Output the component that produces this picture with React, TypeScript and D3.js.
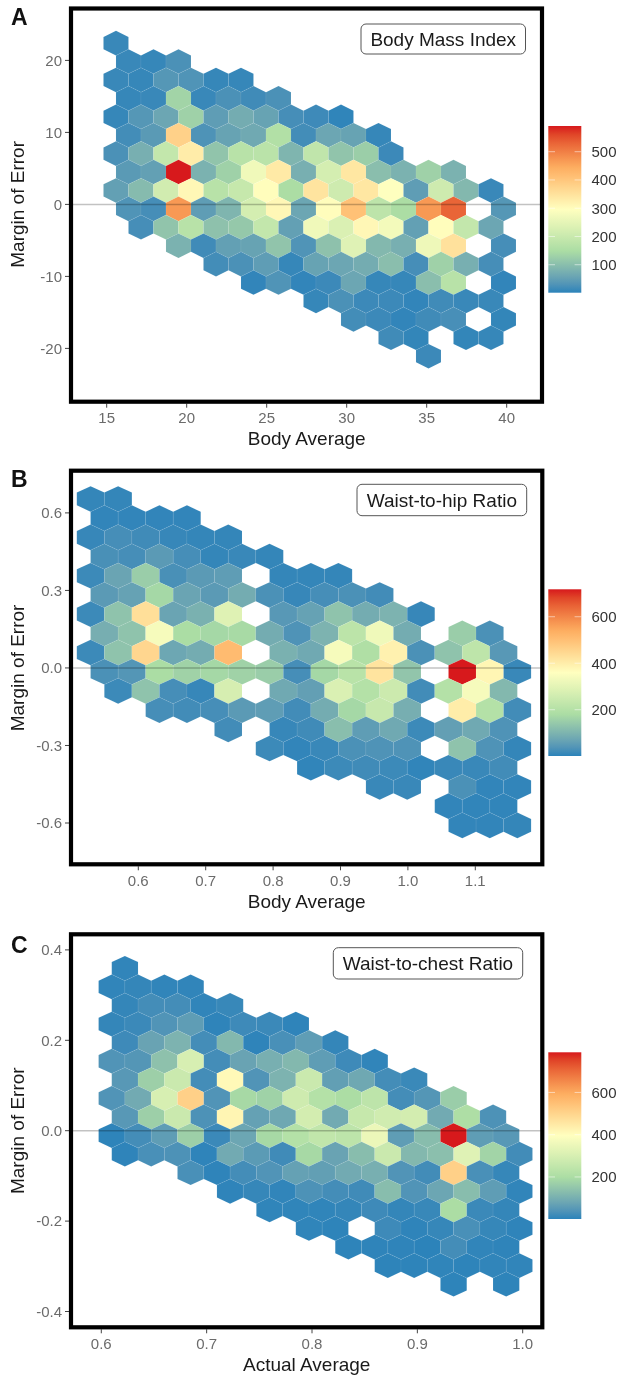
import React from "react";
import * as d3 from "d3";

type Row = [number, (number | null)[]];
const _ = null;

// Hexagon counts: each row is [first column, counts...]; null marks an empty cell.
const bmiRows: Row[] = [
  [0, [10]],
  [0, [10, 8, 25]],
  [0, [10, 8, 35, 30, 8, 8]],
  [0, [8, 10, 135, 10, 25, 15, 25]],
  [0, [8, 35, 60, 130, 45, 70, 55, 20, 14, 4]],
  [0, [18, 40, 380, 28, 55, 65, 160, 18, 60, 55, 8]],
  [0, [25, 75, 190, 330, 110, 170, 175, 85, 185, 110, 125, 12]],
  [0, [40, 50, 591, 80, 130, 270, 335, 75, 220, 340, 100, 80, 130, 80]],
  [0, [50, 95, 215, 310, 170, 195, 300, 150, 345, 210, 340, 295, 45, 210, 90, 10]],
  [0, [30, 20, 470, 45, 85, 220, 310, 60, 300, 410, 180, 150, 470, 530, _, 35]],
  [1, [20, 110, 170, 105, 115, 190, 50, 270, 230, 310, 275, 50, 300, 190, 60]],
  [2, [80, 15, 50, 55, 110, 30, 105, 240, 90, 75, 265, 350, _, 20]],
  [4, [18, 25, 45, 8, 55, 60, 70, 100, 20, 130, 75, 20]],
  [5, [5, 30, 5, 12, 60, 8, 8, 100, 170, _, 5]],
  [8, [8, 25, 12, 12, 5, 15, 10, 10]],
  [9, [18, 12, 5, 15, 22, _, 6]],
  [11, [15, 6, _, 6, 8]],
  [12, [12]],
];
const whrRows: Row[] = [
  [0, [8, 8]],
  [0, [6, 6, 6, 6]],
  [0, [10, 25, 18, 10, 8, 8]],
  [0, [28, 25, 50, 25, 8, 12, 8]],
  [0, [15, 70, 150, 28, 50, 55, _, 8, 8, 8]],
  [0, [50, 65, 170, 70, 50, 85, 30, 10, 25, 30, 20]],
  [0, [15, 130, 430, 70, 95, 290, _, 45, 65, 130, 85, 100, 10]],
  [0, [90, 130, 340, 180, 170, 175, 85, 35, 100, 215, 325, 85, _, 150, 30]],
  [0, [15, 130, 450, 75, 85, 510, _, 95, 80, 340, 190, 390, 30, 130, 220, 45]],
  [0, [30, 40, 180, 160, 170, 160, 150, 25, 170, 210, 420, 135, _, 718, 380, 12]],
  [1, [15, 130, 25, 10, 270, _, 80, 60, 280, 200, 250, 20, 200, 340, 110]],
  [2, [25, 20, 25, 50, 55, 20, 85, 170, 240, 90, _, 400, 200, 20]],
  [5, [20, _, 10, 18, 120, 55, 80, 15, 60, 80, 35]],
  [6, [15, 6, 12, 30, 35, 35, _, 130, 35, 8]],
  [8, [5, 15, 18, 15, 5, 12, 12, 20]],
  [10, [12, 12, _, 30, 6, 6]],
  [13, [6, 5, 5]],
  [13, [6, 6, 8]],
];
const wcrRows: Row[] = [
  [0, [6]],
  [0, [6, 8, 6, 6]],
  [0, [8, 25, 25, 6, 12]],
  [0, [8, 15, 40, 60, 4, 18, 15, 4]],
  [0, [18, 75, 110, 25, 120, 4, 30, 60, 8]],
  [0, [40, 45, 140, 300, 25, 75, 100, 120, 60, 18, 6]],
  [0, [50, 170, 270, 25, 410, 40, 110, 270, 65, 85, 25, 14]],
  [0, [40, 90, 300, 510, 40, 190, 175, 280, 220, 200, 240, 25, 45, 165]],
  [0, [50, 170, 270, 35, 420, 70, 85, 290, 90, 260, 285, 290, 90, 205, 35]],
  [0, [3, 25, 60, 170, 15, 80, 190, 220, 250, 240, 350, 60, 130, 790, 60, 50]],
  [0, [4, 30, 35, 4, 90, 55, 20, 190, 75, 130, 270, 120, 135, 320, 180, 22]],
  [3, [30, 4, 25, 40, 70, 65, 90, 100, 40, 22, 510, 30, 10]],
  [4, [4, 10, 6, 35, 25, 20, 130, 40, 80, 130, 60, 6]],
  [6, [5, 5, 5, 8, 18, 8, 12, 200, 15, 8]],
  [7, [5, 3, _, 18, 4, 10, 30, 10, 4]],
  [9, [3, 4, 4, 2, 25, 6, 4]],
  [10, [3, 3, 5, 3, 6, 6]],
  [13, [3, _, 3]],
];

const bmiXTicks = [15, 20, 25, 30, 35, 40];
const bmiYTicks = [20, 10, 0, -10, -20];
const whrXTicks = [0.6, 0.7, 0.8, 0.9, 1.0, 1.1];
const whrYTicks = [0.6, 0.3, 0, -0.3, -0.6];
const wcrXTicks = [0.6, 0.7, 0.8, 0.9, 1.0];
const wcrYTicks = [0.4, 0.2, 0, -0.2, -0.4];
const bmiLegendTicks = [100, 200, 300, 400, 500];
const whrLegendTicks = [200, 400, 600];
const wcrLegendTicks = [200, 400, 600];
const spectral = ["#2B83BA", "#ABDDA4", "#FFFFBF", "#FDAE61", "#D7191C"];

const SANS = "'Liberation Sans', Arial, sans-serif";

interface PanelSpec {
  id: string; letter: string; letterY: number; title: string; xTitle: string;
  rows: Row[]; xTicks: number[]; yTicks: number[]; legendTicks: number[];
  xFmt: (v: number) => string; yFmt: (v: number) => string;
  xDom: [number, number]; xRange: [number, number];
  yDom: [number, number]; yRange: [number, number];
  box: { l: number; t: number; r: number; b: number };
  hex: { x0: number; y0: number; dx: number; dy: number; odd: number };
  count: [number, number];
  legend: { top: number; bottom: number };
  label: { l: number; t: number; r: number; b: number };
}

const f1 = (v: number) => d3.format(".1f")(v).replace("\u2212", "-");
const f0 = (v: number) => String(v);

const panels: PanelSpec[] = [
  {
    id: "a", letter: "A", letterY: 25, title: "Body Mass Index", xTitle: "Body Average",
    rows: bmiRows, xTicks: bmiXTicks, yTicks: bmiYTicks, legendTicks: bmiLegendTicks, xFmt: f0, yFmt: f0,
    xDom: [15, 40], xRange: [106.7, 506.7], yDom: [20, -20], yRange: [60.4, 348.4],
    box: { l: 71, t: 8.5, r: 542, b: 401.7 },
    hex: { x0: 15.58, y0: 22.4, dx: 1.5625, dy: 2.558, odd: 0.5 },
    count: [1, 591], legend: { top: 126, bottom: 292.7 },
    label: { l: 361, t: 24, r: 525.5, b: 54 },
  },
  {
    id: "b", letter: "B", letterY: 487, title: "Waist-to-hip Ratio", xTitle: "Body Average",
    rows: whrRows, xTicks: whrXTicks, yTicks: whrYTicks, legendTicks: whrLegendTicks, xFmt: f1, yFmt: f1,
    xDom: [0.6, 1.1], xRange: [138.3, 475.3], yDom: [0.6, -0.6], yRange: [512.9, 823],
    box: { l: 71, t: 470.7, r: 542.3, b: 864.3 },
    hex: { x0: 0.5292, y0: 0.654, dx: 0.04085, dy: 0.0743, odd: 0.5 },
    count: [1, 718], legend: { top: 589.3, bottom: 756 },
    label: { l: 357, t: 484.3, r: 526.7, b: 515.7 },
  },
  {
    id: "c", letter: "C", letterY: 953, title: "Waist-to-chest Ratio", xTitle: "Actual Average",
    rows: wcrRows, xTicks: wcrXTicks, yTicks: wcrYTicks, legendTicks: wcrLegendTicks, xFmt: f1, yFmt: f1,
    xDom: [0.6, 1.0], xRange: [101.3, 522.7], yDom: [0.4, -0.4], yRange: [949.9, 1311.5],
    box: { l: 71, t: 934.3, r: 542.3, b: 1327.3 },
    hex: { x0: 0.6224, y0: 0.3593, dx: 0.02496, dy: 0.04111, odd: -0.5 },
    count: [1, 790], legend: { top: 1052.3, bottom: 1219 },
    label: { l: 333.3, t: 947.7, r: 522.7, b: 979 },
  },
];

function Panel({ p }: { p: PanelSpec }) {
  const x = d3.scaleLinear().domain(p.xDom).range(p.xRange);
  const y = d3.scaleLinear().domain(p.yDom).range(p.yRange);
  const [lo, hi] = p.count;
  const color = d3.scaleLinear<string>()
    .domain(d3.range(5).map((i) => lo + ((hi - lo) * i) / 4))
    .range(spectral)
    .interpolate(d3.interpolateLab);
  const legendY = d3.scaleLinear().domain([lo, hi]).range([p.legend.bottom, p.legend.top]);

  const halfW = Math.abs(x(p.hex.x0 + p.hex.dx) - x(p.hex.x0)) / 2;
  const rowPx = Math.abs(y(p.hex.y0 + p.hex.dy) - y(p.hex.y0));
  const rad = (rowPx * 2) / 3;
  const hexPath = d3.line()([
    [0, -rad], [halfW, -rad / 2], [halfW, rad / 2], [0, rad], [-halfW, rad / 2], [-halfW, -rad / 2],
  ] as [number, number][]) + "Z";

  const cells: { cx: number; cy: number; n: number }[] = [];
  p.rows.forEach(([start, values], r) => {
    values.forEach((n, i) => {
      if (n === null) return;
      const k = start + i + (r % 2 === 1 ? p.hex.odd : 0);
      cells.push({ cx: x(p.hex.x0 + k * p.hex.dx), cy: y(p.hex.y0 - r * p.hex.dy), n });
    });
  });

  const { l, t, r, b } = p.box;
  const midY = y(0);
  const gradId = `grad-${p.id}`;
  const legendStops = d3.range(0, 1.0001, 0.05);
  return (
    <g fontFamily={SANS}>
      <defs>
        <linearGradient id={gradId} x1="0" y1="1" x2="0" y2="0">
          {legendStops.map((s) => (
            <stop key={s} offset={s} stopColor={color(lo + (hi - lo) * s)} />
          ))}
        </linearGradient>
      </defs>
      <text x={11} y={p.letterY} fontSize={23} fontWeight={700} fill="#111">{p.letter}</text>

      {cells.map((c, i) => (
        <path key={i} d={hexPath} transform={`translate(${c.cx},${c.cy})`}
          fill={color(c.n)} stroke="#fff" strokeOpacity={0.1} strokeWidth={0.5} />
      ))}
      <line x1={l} x2={r} y1={midY} y2={midY} stroke="#000" strokeOpacity={0.24} strokeWidth={1.5} />

      {p.xTicks.map((v) => (
        <g key={v}>
          <line x1={x(v)} x2={x(v)} y1={b + 2} y2={b + 6} stroke="#444" strokeWidth={1} />
          <text x={x(v)} y={b + 21.5} textAnchor="middle" fontSize={15} fill="#6b6b6b">{p.xFmt(v)}</text>
        </g>
      ))}
      {p.yTicks.map((v) => (
        <g key={v}>
          <line x1={l - 6} x2={l - 2} y1={y(v)} y2={y(v)} stroke="#444" strokeWidth={1} />
          <text x={l - 9} y={y(v) + 5.3} textAnchor="end" fontSize={15} fill="#6b6b6b">{p.yFmt(v)}</text>
        </g>
      ))}
      <rect x={l} y={t} width={r - l} height={b - t} fill="none" stroke="#000" strokeWidth={4.2} />

      <text x={306.7} y={b + 43.5} textAnchor="middle" fontSize={19} fill="#1a1a1a">{p.xTitle}</text>
      <text transform={`translate(24,${midY}) rotate(-90)`} textAnchor="middle" fontSize={19} fill="#1a1a1a">Margin of Error</text>

      <rect x={p.label.l} y={p.label.t} width={p.label.r - p.label.l} height={p.label.b - p.label.t}
        rx={5} fill="#fff" stroke="#555" strokeWidth={1} />
      <text x={(p.label.l + p.label.r) / 2} y={(p.label.t + p.label.b) / 2 + 6.8} textAnchor="middle" fontSize={19} fill="#1a1a1a">{p.title}</text>

      <rect x={548.3} y={p.legend.top} width={33} height={p.legend.bottom - p.legend.top} fill={`url(#${gradId})`} />
      {p.legendTicks.map((v) => (
        <g key={v}>
          <line x1={548.3} x2={555} y1={legendY(v)} y2={legendY(v)} stroke="#fff" strokeOpacity={0.75} strokeWidth={0.7} />
          <line x1={574.6} x2={581.3} y1={legendY(v)} y2={legendY(v)} stroke="#fff" strokeOpacity={0.75} strokeWidth={0.7} />
          <text x={591.5} y={legendY(v) + 5.4} fontSize={15} fill="#333">{v}</text>
        </g>
      ))}
    </g>
  );
}

export default function App() {
  return (
    <svg width={624} height={1380} viewBox="0 0 624 1380"
      style={{ position: "absolute", left: 0, top: 0, display: "block", background: "#fff" }}>
      <defs>
        <filter id="soft" x="0" y="0" width="100%" height="100%" colorInterpolationFilters="sRGB">
          <feGaussianBlur stdDeviation="0.5" />
        </filter>
      </defs>
      <g filter="url(#soft)">
        <rect width={624} height={1380} fill="#fff" />
        {panels.map((p) => <Panel key={p.id} p={p} />)}
      </g>
    </svg>
  );
}
